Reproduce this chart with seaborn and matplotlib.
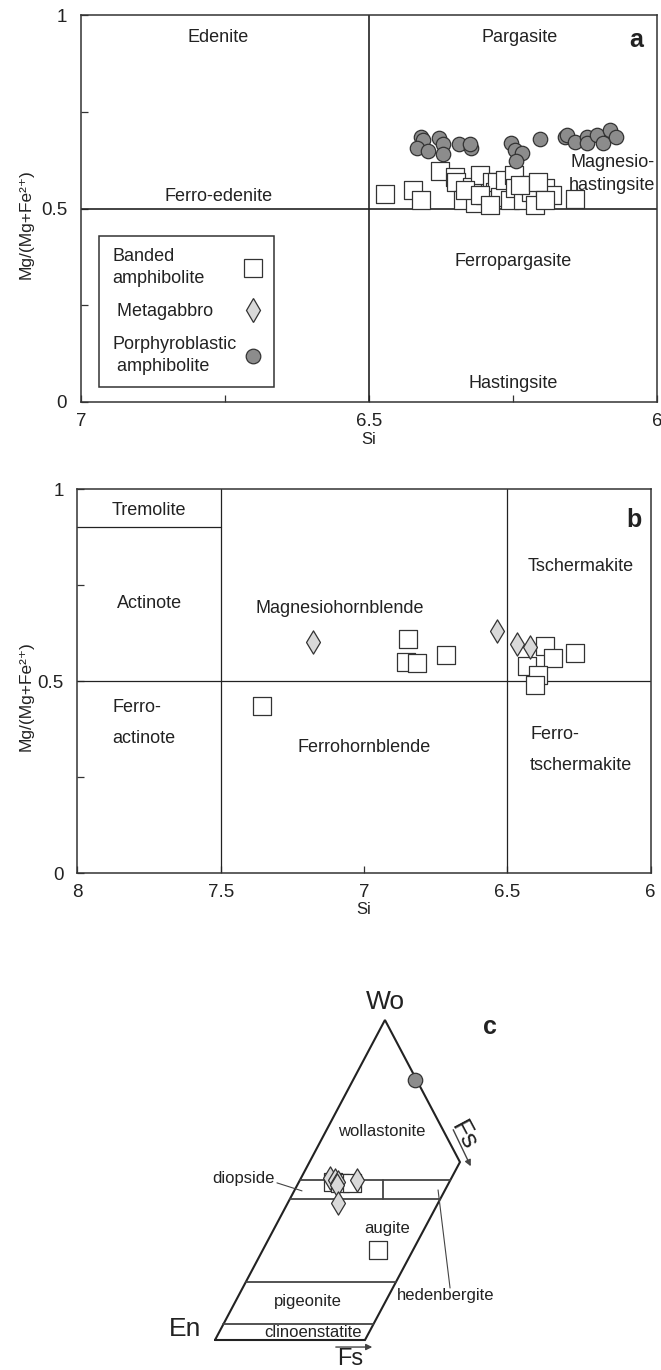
import numpy as np
import pandas as pd
import matplotlib
matplotlib.use("Agg")
import matplotlib.pyplot as plt
from matplotlib.lines import Line2D
import seaborn as sns

# ---------------- data ----------------
# Panel a (Si vs Mg/(Mg+Fe2+)), calcic amphiboles
a_band_si = [6.472, 6.423, 6.409, 6.377, 6.351, 6.349, 6.336, 6.322, 6.307, 6.316,
             6.299, 6.287, 6.281, 6.278, 6.273, 6.264, 6.255, 6.249, 6.247, 6.232,
             6.223, 6.218, 6.194, 6.183, 6.142, 6.333, 6.307, 6.238, 6.207, 6.290,
             6.212, 6.194]
a_band_mg = [0.537, 0.548, 0.522, 0.598, 0.582, 0.569, 0.522, 0.556, 0.587, 0.513,
             0.535, 0.569, 0.543, 0.569, 0.530, 0.574, 0.522, 0.587, 0.552, 0.522,
             0.561, 0.543, 0.552, 0.535, 0.524, 0.548, 0.535, 0.561, 0.569, 0.509,
             0.509, 0.522]
a_porph_si = [6.410, 6.406, 6.416, 6.397, 6.378, 6.372, 6.371, 6.344, 6.323, 6.325,
              6.254, 6.247, 6.235, 6.245, 6.203, 6.160, 6.156, 6.142, 6.122, 6.122,
              6.105, 6.093, 6.082, 6.071]
a_porph_mg = [0.686, 0.677, 0.657, 0.649, 0.681, 0.666, 0.640, 0.666, 0.657, 0.667,
              0.670, 0.651, 0.644, 0.624, 0.679, 0.686, 0.690, 0.673, 0.686, 0.668,
              0.690, 0.668, 0.703, 0.686]

# Panel b
b_band_si = [6.845, 6.853, 6.816, 6.714, 6.368, 6.339, 6.264, 6.432, 6.392, 6.403, 7.356]
b_band_mg = [0.609, 0.550, 0.546, 0.568, 0.591, 0.559, 0.574, 0.539, 0.516, 0.490, 0.435]
b_meta_si = [7.179, 6.537, 6.467, 6.421]
b_meta_mg = [0.602, 0.630, 0.596, 0.588]

# Panel c (pyroxene diagram; u = horizontal diagram unit, w = Wo %)
c_band_u = [78.9, 83.3, 91.1, 108.9]
c_band_w = [49.5, 49.0, 49.0, 28.1]
c_meta_u = [76.7, 80.0, 82.2, 81.1, 94.5, 82.2]
c_meta_w = [50.5, 50.0, 49.5, 48.4, 50.0, 42.7]
c_porph_u = [133.3]
c_porph_w = [81.3]

# Panel c diagram geometry
c_outline_u = [0.0, 113.3, 163.3, 100.0, 0.0]
c_outline_w = [0.0, 100.0, 55.6, 0.0, 0.0]
c_shear = 1.133
c_boundaries_w = [50.0, 44.0, 18.0, 5.0]
c_divider_u = 112.2

groups = ["Banded\namphibolite", " Metagabbro", "Porphyroblastic\n amphibolite"]

# ---------------- style ----------------
sns.set_theme(style="ticks")
plt.rcParams["font.family"] = ["Liberation Sans", "DejaVu Sans"]
plt.rcParams["axes.unicode_minus"] = False

INK = "#222222"
EDGE = "#333333"
SQ = dict(marker="s", color="white", edgecolor=EDGE, linewidth=0.9, s=150, zorder=3)
DI = dict(marker="d", color="#d9d9d9", edgecolor=EDGE, linewidth=0.9, s=140, zorder=4)
CI = dict(marker="o", color="#8c8c8c", edgecolor=EDGE, linewidth=0.9, s=108, zorder=4)
FS = 13

fig = plt.figure(figsize=(6.61, 13.70), dpi=100)
W, H = 661.0, 1370.0


def px_axes(l, r, t, b):
    return fig.add_axes([l / W, 1 - b / H, (r - l) / W, (b - t) / H])


def style_axes(ax, ylab_x):
    for sp in ax.spines.values():
        sp.set_linewidth(1.1)
        sp.set_color(EDGE)
    ax.tick_params(which="both", direction="in", length=5, width=0.9,
                   colors=EDGE, labelcolor=INK, labelsize=13.5)
    ax.tick_params(axis="y", which="both", pad=10)
    ax.tick_params(axis="x", which="both", pad=8)
    ax.set_yticks([0, 0.5, 1])
    ax.set_yticklabels(["0", "0.5", "1"])
    ax.set_yticks([0.25, 0.75], minor=True)
    ax.set_ylabel("Mg/(Mg+Fe²⁺)", fontsize=12.5, color=INK)
    ax.yaxis.set_label_coords(ylab_x, 0.46)
    ax.set_xlabel("Si", fontsize=12, color=INK, labelpad=1)


# ---------------- panel a ----------------
ax = px_axes(81, 657, 15, 402)
da_b = pd.DataFrame({"Si": a_band_si, "Mg": a_band_mg})
da_p = pd.DataFrame({"Si": a_porph_si, "Mg": a_porph_mg})
sns.scatterplot(data=da_b, x="Si", y="Mg", ax=ax, legend=False, **SQ)
sns.scatterplot(data=da_p, x="Si", y="Mg", ax=ax, legend=False, **CI)
ax.set_xlim(7, 6)
ax.set_ylim(0, 1)
ax.axhline(0.5, color=INK, lw=1.2, zorder=2)
ax.axvline(6.5, color=INK, lw=1.2, zorder=2)
style_axes(ax, -0.082)
ax.set_xticks([7, 6.5, 6])
ax.set_xticklabels(["7", "6.5", "6"])
ax.set_xticks([6.75, 6.25], minor=True)
txt = dict(fontsize=FS, color=INK, ha="center", va="center")
ax.text(6.762, 0.941, "Edenite", **txt)
ax.text(6.238, 0.941, "Pargasite", **txt)
ax.text(6.762, 0.532, "Ferro-edenite", **txt)
ax.text(6.078, 0.589, "Magnesio-\nhastingsite", linespacing=1.4, **txt)
ax.text(6.25, 0.362, "Ferropargasite", **txt)
ax.text(6.25, 0.049, "Hastingsite", **txt)
ax.text(6.036, 0.935, "a", fontsize=18, fontweight="bold", color=INK,
        ha="center", va="center")

handles = [
    Line2D([], [], ls="", marker="s", mfc="white", mec=EDGE, mew=0.9, ms=12.5),
    Line2D([], [], ls="", marker="d", mfc="#d9d9d9", mec=EDGE, mew=0.9, ms=12.5),
    Line2D([], [], ls="", marker="o", mfc="#8c8c8c", mec=EDGE, mew=0.9, ms=10.5),
]
leg = ax.legend(handles, groups, loc="upper left", bbox_to_anchor=(0.032, 0.43),
                borderaxespad=0, markerfirst=False, frameon=True, fancybox=False,
                framealpha=1, edgecolor=EDGE, fontsize=FS, labelspacing=0.9,
                handletextpad=0.4, handlelength=1.0, borderpad=0.7)
leg.get_frame().set_linewidth(1.1)
for t in leg.get_texts():
    t.set_color(INK)
    t.set_linespacing(1.35)

# left-align the label column while keeping the markers in one column
fig.canvas.draw()
renderer = fig.canvas.get_renderer()
rows = leg._legend_handle_box.get_children()[0].get_children()
widths = [row.get_children()[0].get_window_extent(renderer).width for row in rows]
maxw = max(widths)
for row, wd in zip(rows, widths):
    row.sep += (maxw - wd) * 72.0 / fig.dpi

# ---------------- panel b ----------------
bx = px_axes(77.4, 650.6, 489, 873)
db_b = pd.DataFrame({"Si": b_band_si, "Mg": b_band_mg})
db_m = pd.DataFrame({"Si": b_meta_si, "Mg": b_meta_mg})
sns.scatterplot(data=db_b, x="Si", y="Mg", ax=bx, legend=False, **SQ)
sns.scatterplot(data=db_m, x="Si", y="Mg", ax=bx, legend=False, **DI)
bx.set_xlim(8, 6)
bx.set_ylim(0, 1)
bx.axhline(0.5, color=INK, lw=0.9, zorder=2)
bx.axvline(7.5, color=INK, lw=0.9, zorder=2)
bx.axvline(6.5, color=INK, lw=0.9, zorder=2)
bx.plot([8, 7.5], [0.9, 0.9], color=INK, lw=0.9, zorder=2)
style_axes(bx, -0.076)
bx.set_xticks([8, 7.5, 7, 6.5, 6])
bx.set_xticklabels(["8", "7.5", "7", "6.5", "6"])
bx.text(7.75, 0.943, "Tremolite", **txt)
bx.text(7.75, 0.703, "Actinote", **txt)
bx.text(7.083, 0.69, "Magnesiohornblende", **txt)
bx.text(6.245, 0.797, "Tschermakite", **txt)
bx.text(7.0, 0.326, "Ferrohornblende", **txt)
bx.text(7.879, 0.39, "Ferro-\nactinote", fontsize=FS, color=INK, ha="left",
        va="center", linespacing=2.05)
bx.text(6.42, 0.32, "Ferro-\ntschermakite", fontsize=FS, color=INK, ha="left",
        va="center", linespacing=2.05)
bx.text(6.057, 0.919, "b", fontsize=18, fontweight="bold", color=INK,
        ha="center", va="center")

# ---------------- panel c ----------------
cx = fig.add_axes([0, 0, 1, 470 / H])
cx.axis("off")
LW = 1.5
cx.plot(c_outline_u, c_outline_w, color=INK, lw=LW, solid_joinstyle="miter", zorder=2)
for wv in c_boundaries_w:
    cx.plot([c_shear * wv, 100 + c_shear * wv], [wv, wv], color="#444444", lw=1.3, zorder=2)
cx.plot([c_divider_u, c_divider_u], [c_boundaries_w[1], c_boundaries_w[0]],
        color="#444444", lw=1.3, zorder=2)

dc_b = pd.DataFrame({"u": c_band_u, "w": c_band_w})
dc_m = pd.DataFrame({"u": c_meta_u, "w": c_meta_w})
dc_p = pd.DataFrame({"u": c_porph_u, "w": c_porph_w})
sns.scatterplot(data=dc_b, x="u", y="w", ax=cx, legend=False, **SQ)
sns.scatterplot(data=dc_m, x="u", y="w", ax=cx, legend=False, **DI)
sns.scatterplot(data=dc_p, x="u", y="w", ax=cx, legend=False, **CI)
cx.set_xlim(-215 / 1.5, (W - 215) / 1.5)
cx.set_ylim(-30 / 3.2, 440 / 3.2)

ctxt = dict(fontsize=12, color=INK, ha="center", va="center")
cx.text(111.3, 65.0, "wollastonite", **ctxt)
cx.text(40.0, 50.6, "diopside", fontsize=12, color=INK, ha="right", va="center")
cx.plot([41.3, 58.0], [49.1, 46.6], color="#444444", lw=0.8)
cx.text(114.7, 35.0, "augite", **ctxt)
cx.text(62.0, 11.9, "pigeonite", **ctxt)
cx.text(65.3, 2.2, "clinoenstatite", **ctxt)
cx.text(121.5, 14.0, "hedenbergite", fontsize=12, color=INK, ha="left", va="center")
cx.plot([156.7, 148.7], [16.25, 46.9], color="#444444", lw=0.8)
cx.text(113.3, 105.5, "Wo", fontsize=19, color=INK, ha="center", va="center")
cx.text(-20.0, 3.4, "En", fontsize=19, color=INK, ha="center", va="center")
cx.text(90.0, -5.8, "Fs", fontsize=17, color=INK, ha="center", va="center")
cx.annotate("", xy=(106.7, -2.2), xytext=(78.7, -2.2),
            arrowprops=dict(arrowstyle="-|>", color="#444444", lw=1.0, mutation_scale=9))
cx.text(166.0, 63.8, "Fs", fontsize=19, color=INK, ha="center", va="center", rotation=-62)
cx.annotate("", xy=(171.3, 53.5), xytext=(158.0, 66.5),
            arrowprops=dict(arrowstyle="-|>", color="#444444", lw=1.0, mutation_scale=9))
cx.text(183.3, 97.8, "c", fontsize=18, fontweight="bold", color=INK,
        ha="center", va="center")

fig.savefig("out.png", dpi=100)
